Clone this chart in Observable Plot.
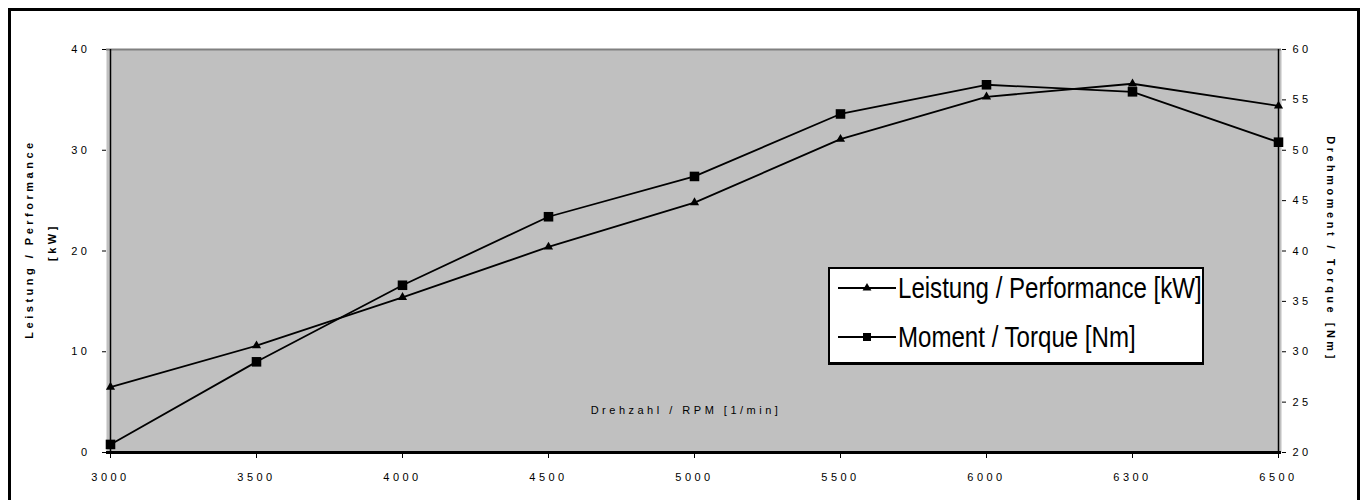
<!DOCTYPE html>
<html>
<head>
<meta charset="utf-8">
<script src="https://cdn.jsdelivr.net/npm/d3@7"></script>
<script src="https://cdn.jsdelivr.net/npm/@observablehq/plot@0.6"></script>
<style>
  html, body { margin: 0; padding: 0; background: #fff; overflow: hidden; }
  #wrap { position: relative; width: 1366px; height: 500px; overflow: hidden; }
  #border { position: absolute; left: 8px; top: 8px; width: 1352px; height: 520px; border: 3px solid #000; box-sizing: border-box; pointer-events: none; }
  #chart { position: absolute; left: 0; top: 0; }
  #legend { position: absolute; left: 828px; top: 267px; width: 376px; height: 98px; background: #fff;
            border: 2px solid #000; border-bottom-width: 3px; box-sizing: border-box;
            font-family: "Liberation Sans", Arial, sans-serif; font-size: 29px; color: #000; }
  .row { position: absolute; left: 6px; display: flex; align-items: center; white-space: nowrap; }
  .row span { display: inline-block; transform: scaleX(0.83); transform-origin: left center; }
</style>
</head>
<body>
<div id="wrap">
  <div id="chart"></div>
  <div id="border"></div>
  <div id="legend"></div>
</div>
<script>
const rpm = ["3000", "3500", "4000", "4500", "5000", "5500", "6000", "6300", "6500"];
const power = [6.5, 10.6, 15.4, 20.4, 24.8, 31.1, 35.3, 36.6, 34.4];
const torque = [20.8, 29.0, 36.6, 43.4, 47.4, 53.6, 56.5, 55.8, 50.8];
const leftTicks = [0, 10, 20, 30, 40];
const rightTicks = [20, 25, 30, 35, 40, 45, 50, 55, 60];
const powerName = "Leistung / Performance [kW]";
const torqueName = "Moment / Torque [Nm]";
const leftTitle1 = "Leistung / Performance";
const leftTitle2 = "[kW]";
const rightTitle = "Drehmoment / Torque [Nm]";
const xTitle = "Drehzahl / RPM [1/min]";

const torqueOffset = 20; // right axis 20..60 maps onto left 0..40
const rows = rpm.map((r, i) => ({rpm: r, power: power[i], torque: torque[i] - torqueOffset}));

const chart = Plot.plot({
  width: 1366,
  height: 500,
  marginLeft: 106,
  marginRight: 85,
  marginTop: 49,
  marginBottom: 48,
  style: {background: "transparent", fontFamily: "Liberation Sans, Arial, sans-serif", fontSize: "10px", color: "#000", letterSpacing: "3.5px"},
  x: {type: "point", domain: rpm, padding: 0},
  y: {domain: [0, 40]},
  marks: [
    Plot.frame({fill: "#c0c0c0", stroke: "none"}),
    Plot.ruleY([40], {stroke: "#808080", strokeWidth: 2}),
    Plot.ruleX([rpm[0]], {stroke: "#000", strokeWidth: 1.5}),
    Plot.ruleX([rpm[rpm.length - 1]], {stroke: "#000", strokeWidth: 1.5}),
    Plot.text([xTitle], {frameAnchor: "bottom", textAnchor: "middle", dx: -8, dy: -39, fontSize: 11, fill: "#000", ariaLabel: "xtitle"}),
    Plot.line(rows, {x: "rpm", y: "power", stroke: "#000", strokeWidth: 1.8}),
    Plot.line(rows, {x: "rpm", y: "torque", stroke: "#000", strokeWidth: 1.8}),
    Plot.dot(rows, {x: "rpm", y: "power", symbol: "triangle", r: 3.4, fill: "#000", stroke: "none"}),
    Plot.dot(rows, {x: "rpm", y: "torque", symbol: "square", r: 5.4, fill: "#000", stroke: "none"}),
    Plot.ruleY([0], {stroke: "#000", strokeWidth: 3}),
    Plot.axisX({ticks: rpm, tickSize: 6, tickPadding: 15, label: null, fontSize: 11}),
    Plot.axisY(leftTicks, {anchor: "left", tickSize: 4, tickPadding: 12, label: null, fontSize: 11}),
    Plot.axisY(rightTicks.map(t => t - torqueOffset), {anchor: "right", tickSize: 4, tickPadding: 7, label: null, fontSize: 11,
      tickFormat: d => String(d + torqueOffset)}),
    Plot.text([leftTitle1], {frameAnchor: "left", textAnchor: "middle", lineAnchor: "middle", dx: -77, dy: -12, rotate: -90, fontSize: 11, fontWeight: "bold", fill: "#000", ariaLabel: "ytitle1"}),
    Plot.text([leftTitle2], {frameAnchor: "left", textAnchor: "middle", lineAnchor: "middle", dx: -54, dy: -9, rotate: -90, fontSize: 11, fontWeight: "bold", fill: "#000", ariaLabel: "ytitle2"}),
    Plot.text([rightTitle], {frameAnchor: "right", textAnchor: "middle", lineAnchor: "middle", dx: 49, dy: -2, rotate: 90, fontSize: 11, fontWeight: "bold", fill: "#000", ariaLabel: "ytitle3"})
  ]
});
document.getElementById("chart").appendChild(chart);
const fit = (label, len) => d3.select(chart).selectAll(`g[aria-label="${label}"] text`)
  .style("letter-spacing", "0px").attr("textLength", len).attr("lengthAdjust", "spacing");
fit("xtitle", 190);
fit("ytitle1", 257);
fit("ytitle2", 38);
fit("ytitle3", 243);

// legend
const legend = d3.select("#legend");
const items = [{name: powerName, sym: "triangle", top: 3}, {name: torqueName, sym: "square", top: 52}];
items.forEach(it => {
  const row = legend.append("div").attr("class", "row").style("top", it.top + "px").style("height", "32px");
  const svg = row.append("svg").attr("width", 62).attr("height", 14);
  svg.append("line").attr("x1", 2).attr("x2", 60).attr("y1", 7).attr("y2", 7).attr("stroke", "#000").attr("stroke-width", 2);
  const s = d3.symbol().type(it.sym === "triangle" ? d3.symbolTriangle : d3.symbolSquare).size(it.sym === "triangle" ? 34 : 64);
  svg.append("path").attr("d", s()).attr("transform", "translate(31,7)").attr("fill", "#000");
  row.append("span").text(it.name);
});
</script>
</body>
</html>
